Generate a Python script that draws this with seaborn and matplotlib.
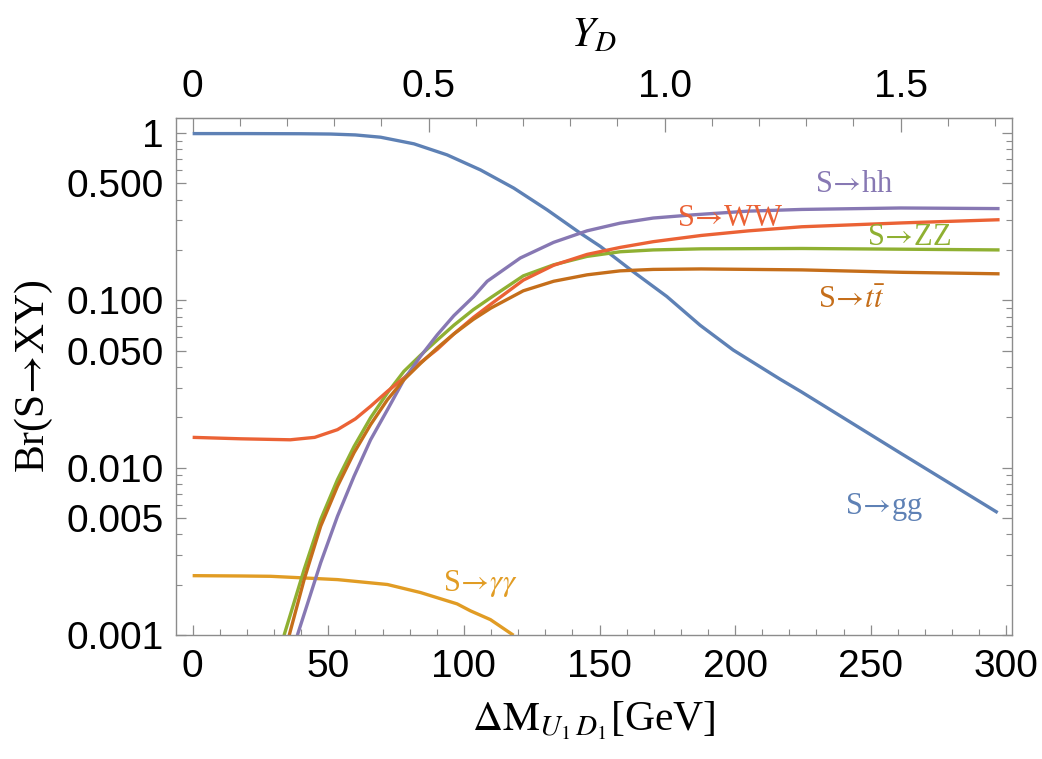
import numpy as np
import pandas as pd
import matplotlib
matplotlib.use('Agg')
import matplotlib.pyplot as plt
import matplotlib.ticker as mticker
import seaborn as sns

# values (Delta M in GeV, branching ratios)
gg_x = [0, 20, 40, 50.9, 60, 69.3, 81.6, 93.8, 106.1, 118.4, 130.7, 142.9, 150.3, 162.0,
        174.8, 187.1, 199.3, 216.6, 224.3, 261.1, 296.8]
gg_y = [0.99, 0.99, 0.988, 0.984, 0.972, 0.942, 0.860, 0.739, 0.601, 0.468, 0.347, 0.252, 0.210, 0.150,
        0.1055, 0.071, 0.0505, 0.0338, 0.0285, 0.0122, 0.0054]

hh_x = [38.6, 47.2, 53.4, 59.5, 65.6, 71.8, 77.9, 84.0, 90.2, 96.3, 103.5, 108.6, 120.8, 133.1,
        145.4, 157.6, 169.8, 184.5, 205.0, 224.6, 261.0, 297.5]
hh_y = [0.001, 0.00271, 0.00514, 0.0089, 0.0147, 0.0222, 0.0336, 0.0463, 0.0623, 0.081, 0.105, 0.130, 0.179, 0.222,
        0.260, 0.289, 0.310, 0.324, 0.341, 0.349, 0.356, 0.353]

ww_x = [0, 17.8, 36.0, 45.0, 53.4, 60.0, 65.6, 71.8, 77.9, 84.0, 90.2, 96.3, 103.5, 110.0, 121.9,
        133.1, 145.4, 157.6, 169.8, 187.5, 205.0, 224.6, 261.6, 297.5]
ww_y = [0.0152, 0.0149, 0.0147, 0.0152, 0.0169, 0.0196, 0.0233, 0.0286, 0.0344, 0.0425, 0.051, 0.063, 0.079, 0.095, 0.132,
        0.162, 0.188, 0.207, 0.224, 0.244, 0.260, 0.275, 0.290, 0.303]

zz_x = [33.7, 41.1, 47.2, 53.4, 59.5, 65.6, 71.8, 77.9, 84.0, 90.2, 96.3, 103.5, 110.0, 121.9,
        133.1, 145.4, 157.6, 169.8, 187.5, 224.6, 261.6, 297.5]
zz_y = [0.001, 0.00247, 0.00491, 0.0085, 0.0134, 0.0199, 0.028, 0.0377, 0.047, 0.058, 0.071, 0.088, 0.104, 0.140,
        0.163, 0.183, 0.195, 0.200, 0.203, 0.204, 0.202, 0.200]

tt_x = [35.6, 41.1, 47.2, 53.4, 59.5, 65.6, 71.8, 77.9, 84.0, 90.2, 96.3, 103.5, 110.0, 121.9,
        133.1, 145.4, 157.6, 169.8, 187.5, 224.6, 261.6, 297.5]
tt_y = [0.001, 0.00215, 0.00448, 0.00776, 0.0123, 0.0181, 0.0255, 0.0336, 0.042, 0.052, 0.063, 0.077, 0.090, 0.114,
        0.130, 0.142, 0.150, 0.153, 0.154, 0.152, 0.147, 0.144]

aa_x = [0, 17.8, 28.8, 53.4, 71.8, 84.0, 97.5, 102.4, 109.8, 118.3]
aa_y = [0.00227, 0.00226, 0.00225, 0.00215, 0.00201, 0.0018, 0.00154, 0.0014, 0.00124, 0.001]

channels = ['gg', 'aa', 'zz', 'ww', 'hh', 'tt']
colors = {'gg': '#5E81B5', 'aa': '#E19C24', 'zz': '#8FB032',
          'ww': '#EB6235', 'hh': '#8778B3', 'tt': '#C56E1A'}

arrow = '$\\!\\rightarrow\\!$'
# label text, position (Delta M, Br)
labels = {
    'hh': ('S' + arrow + 'hh', 244, 0.49),
    'ww': ('S' + arrow + 'WW', 198, 0.31),
    'zz': ('S' + arrow + 'ZZ', 264, 0.236),
    'tt': ('S$\\!\\rightarrow\\! t\\bar{t}$', 243, 0.10),
    'gg': ('S' + arrow + 'gg', 255, 0.0058),
    'aa': ('S$\\!\\rightarrow\\!\\gamma\\gamma$', 106, 0.00205),
}

series = {'gg': (gg_x, gg_y), 'aa': (aa_x, aa_y), 'zz': (zz_x, zz_y),
          'ww': (ww_x, ww_y), 'hh': (hh_x, hh_y), 'tt': (tt_x, tt_y)}
df = pd.concat([pd.DataFrame({'dm': x, 'br': y, 'channel': k}) for k, (x, y) in series.items()],
               ignore_index=True)

sns.set_style('ticks')
plt.rcParams['font.family'] = ['Liberation Sans', 'DejaVu Sans']
plt.rcParams['mathtext.fontset'] = 'stix'
for key in ['text.color', 'axes.labelcolor', 'xtick.labelcolor', 'ytick.labelcolor']:
    plt.rcParams[key] = 'black'

fig, ax = plt.subplots(figsize=(10.42, 7.59), dpi=100)
fig.subplots_adjust(left=0.169, right=0.971, top=0.844, bottom=0.163)

sns.lineplot(data=df, x='dm', y='br', hue='channel', hue_order=channels,
             palette=colors, estimator=None, sort=False, legend=False,
             linewidth=2.4, ax=ax)
for ln in ax.get_lines():
    ln.set_solid_joinstyle('round')
    ln.set_solid_capstyle('butt')

ax.set_yscale('log')
ax.set_xlim(-6.1, 302)
ax.set_ylim(0.001, 1.22)

frame_col = '#8c8c8c'
for s in ax.spines.values():
    s.set_color(frame_col)
    s.set_linewidth(1.0)

ax.xaxis.set_major_locator(mticker.MultipleLocator(50))
ax.xaxis.set_minor_locator(mticker.MultipleLocator(10))
ax.yaxis.set_major_locator(mticker.FixedLocator([0.001, 0.005, 0.01, 0.05, 0.1, 0.5, 1]))
ax.yaxis.set_major_formatter(mticker.FixedFormatter(['0.001', '0.005', '0.010', '0.050', '0.100', '0.500', '1']))
ax.yaxis.set_minor_locator(mticker.LogLocator(base=10, subs=np.arange(2, 10)))
ax.yaxis.set_minor_formatter(mticker.NullFormatter())

ax.tick_params(axis='both', which='both', direction='in', color=frame_col, top=False, right=True)
ax.tick_params(axis='both', which='major', length=7, width=0.9)
ax.tick_params(axis='both', which='minor', length=4, width=0.8)
ax.tick_params(axis='y', labelsize=28, pad=9)
ax.tick_params(axis='x', labelsize=28, pad=10)

serif = ['Liberation Serif', 'DejaVu Serif']
ax.set_xlabel('$\\Delta\\mathrm{M}_{U_1\\,D_1}$[GeV]', fontsize=30, family=serif, labelpad=10)
ax.set_ylabel('Br(S' + arrow + 'XY)', fontsize=30, family=serif, labelpad=8)

top = ax.secondary_xaxis('top', functions=(lambda x: x / 174.0, lambda y: y * 174.0))
top.xaxis.set_major_locator(mticker.FixedLocator([0, 0.5, 1.0, 1.5]))
top.xaxis.set_major_formatter(mticker.FixedFormatter(['0', '0.5', '1.0', '1.5']))
top.xaxis.set_minor_locator(mticker.MultipleLocator(0.1))
top.tick_params(which='both', direction='in', color=frame_col)
top.tick_params(which='major', length=10, width=0.9, labelsize=28, pad=10)
top.tick_params(which='minor', length=6, width=0.8)
top.spines['top'].set_color(frame_col)
top.set_xlabel('$Y_D$', fontsize=30, labelpad=16)

for k, (txt, x, y) in labels.items():
    ax.text(x, y, txt, color=colors[k], fontsize=22, ha='center', va='center', family=serif)

fig.savefig('out.png', dpi=100)
